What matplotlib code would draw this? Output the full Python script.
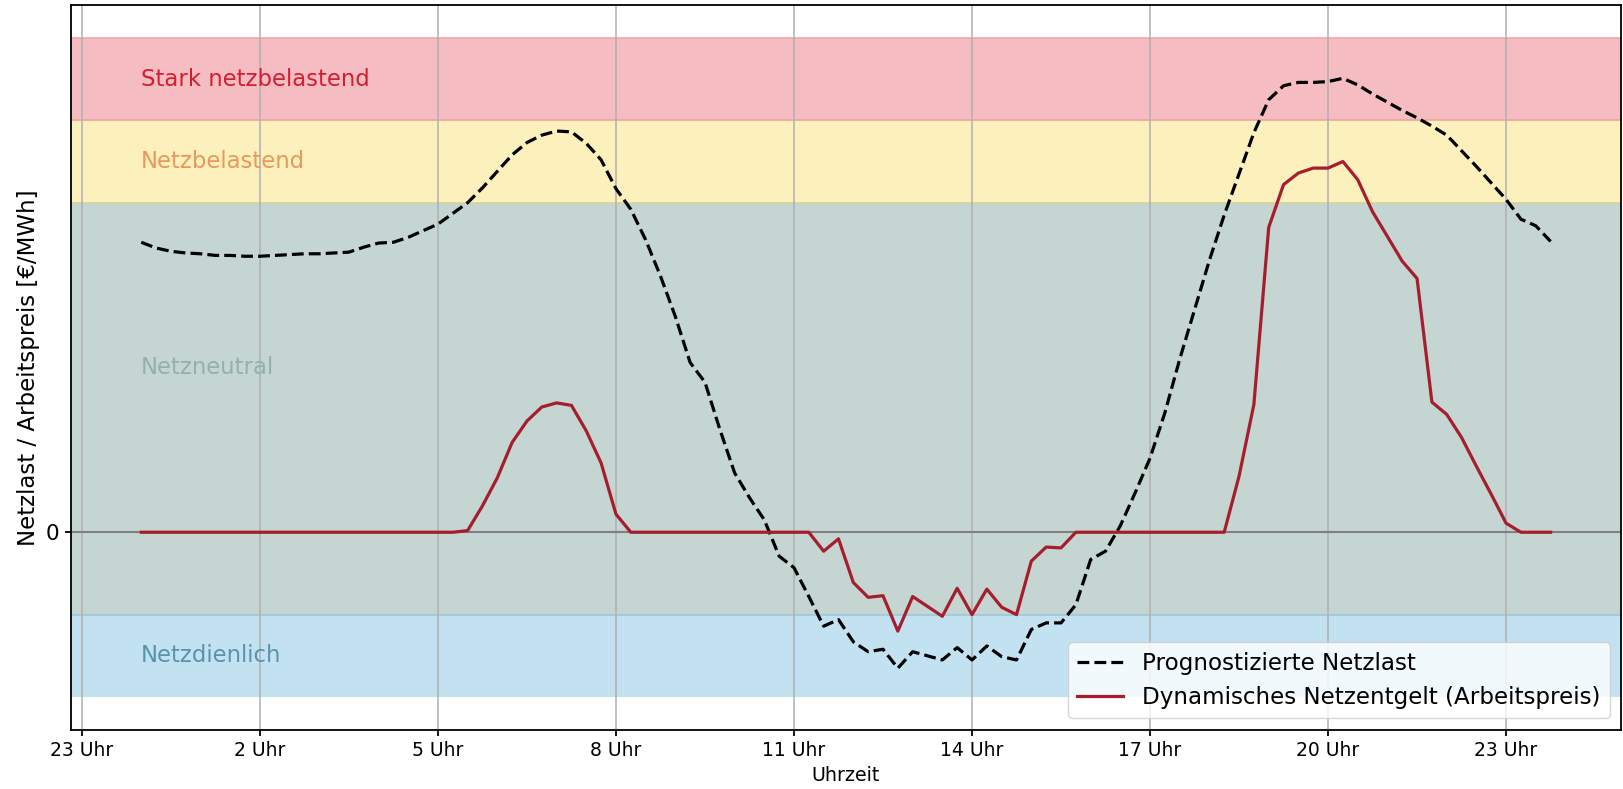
import matplotlib.pyplot as plt
import numpy as np

# Viertelstundenwerte 0:00 .. 23:45 (normierte Skala, 1 Einheit = 1 Band)
netzlast = [
    3.52, 3.45, 3.41, 3.39, 3.38, 3.36, 3.36, 3.35, 3.35, 3.36, 3.37, 3.38,
    3.38, 3.39, 3.40, 3.46, 3.51, 3.52, 3.58, 3.66, 3.74, 3.87, 4.00, 4.18,
    4.38, 4.58, 4.73, 4.82, 4.87, 4.86, 4.72, 4.52, 4.17, 3.92, 3.55, 3.11,
    2.62, 2.06, 1.82, 1.25, 0.72, 0.42, 0.15, -0.29, -0.43, -0.78, -1.14, -1.06,
    -1.33, -1.45, -1.42, -1.65, -1.45, -1.50, -1.55, -1.40, -1.55, -1.38, -1.51, -1.55,
    -1.18, -1.10, -1.10, -0.88, -0.33, -0.23, 0.08, 0.48, 0.90, 1.45, 2.10, 2.70,
    3.30, 3.85, 4.35, 4.85, 5.25, 5.42, 5.46, 5.46, 5.47, 5.51, 5.43, 5.32,
    5.22, 5.12, 5.03, 4.93, 4.82, 4.63, 4.44, 4.24, 4.04, 3.80, 3.72, 3.53,
]
arbeitspreis = [
    0, 0, 0, 0, 0, 0, 0, 0, 0, 0, 0, 0,
    0, 0, 0, 0, 0, 0, 0, 0, 0, 0, 0.02, 0.32,
    0.66, 1.09, 1.35, 1.52, 1.57, 1.54, 1.23, 0.84, 0.22, 0, 0, 0,
    0, 0, 0, 0, 0, 0, 0, 0, 0, 0, -0.23, -0.08,
    -0.61, -0.79, -0.77, -1.20, -0.78, -0.90, -1.02, -0.68, -1.00, -0.69, -0.91, -1.00,
    -0.35, -0.18, -0.19, 0, 0, 0, 0, 0, 0, 0, 0, 0,
    0, 0, 0.68, 1.55, 3.70, 4.22, 4.36, 4.42, 4.42, 4.50, 4.28, 3.89,
    3.59, 3.29, 3.08, 1.58, 1.43, 1.15, 0.80, 0.46, 0.11, 0, 0, 0,
]

band_names = ["Stark netzbelastend", "Netzbelastend", "Netzneutral", "Netzdienlich"]
band_ranges = [(5, 6), (4, 5), (-1, 4), (-2, -1)]
band_label_y = [5.5, 4.5, 2.0, -1.5]
band_colors = ["#f5bcc1", "#fcf0bd", "#c5d5d2", "#c2e2f2"]
band_text_colors = ["#d21f2f", "#e8985a", "#94b0aa", "#5a92ab"]

tick_labels = ["23 Uhr", "2 Uhr", "5 Uhr", "8 Uhr", "11 Uhr", "14 Uhr", "17 Uhr", "20 Uhr", "23 Uhr"]


def plot_netzentgelt(save_path: str = "out.png"):
    fig, ax = plt.subplots(figsize=(16.23, 7.89), dpi=100)
    fig.subplots_adjust(left=0.0436, right=0.9988, bottom=0.0748, top=0.9937)

    zeit = 24 + np.arange(len(netzlast)) * 0.25

    for (lo, hi), col in zip(band_ranges, band_colors):
        ax.axhspan(lo, hi, color=col, lw=0, zorder=0)
    ax.axhline(6, color="#f0a6a8", lw=1.2, zorder=0.5)
    ax.axhline(5, color="#eea59f", lw=1.2, zorder=0.5)
    ax.axhline(4, color="#d9d19c", lw=1.2, zorder=0.5)
    ax.axhline(-1, color="#9fc7d9", lw=1.2, zorder=0.5)

    for name, y, col in zip(band_names, band_label_y, band_text_colors):
        ax.text(zeit[0], y, name, color=col, fontsize=16.4, ha="left", va="center")

    ax.axhline(0, color="#808080", lw=1.5, zorder=1.6)
    ax.plot(zeit, netzlast, color="black", linestyle="--", lw=2.3, label="Prognostizierte Netzlast", zorder=3)
    ax.plot(zeit, arbeitspreis, color="#a51e2d", lw=2.3, label="Dynamisches Netzentgelt (Arbeitspreis)", zorder=3)

    ax.set_xlim(zeit[0] - 0.05 * (zeit[-1] - zeit[0]), zeit[-1] + 0.05 * (zeit[-1] - zeit[0]))
    ax.set_ylim(-2.4, 6.4)
    ax.set_xticks(23 + 3 * np.arange(len(tick_labels)))
    ax.set_xticklabels(tick_labels)
    ax.set_yticks([0])
    ax.tick_params(axis="x", labelsize=13.5, length=4.5, width=1.3)
    ax.tick_params(axis="y", labelsize=15.5, length=4.5, width=1.3)
    ax.grid(axis="x", color="#b0b0b0", lw=1.1)
    for sp in ax.spines.values():
        sp.set_linewidth(1.3)

    ax.set_xlabel("Uhrzeit", fontsize=13.7)
    ax.set_ylabel("Netzlast / Arbeitspreis [€/MWh]", fontsize=16.5)
    ax.legend(loc="lower right", fontsize=16.6)

    plt.savefig(save_path, dpi=100)
    plt.close()


plot_netzentgelt()
